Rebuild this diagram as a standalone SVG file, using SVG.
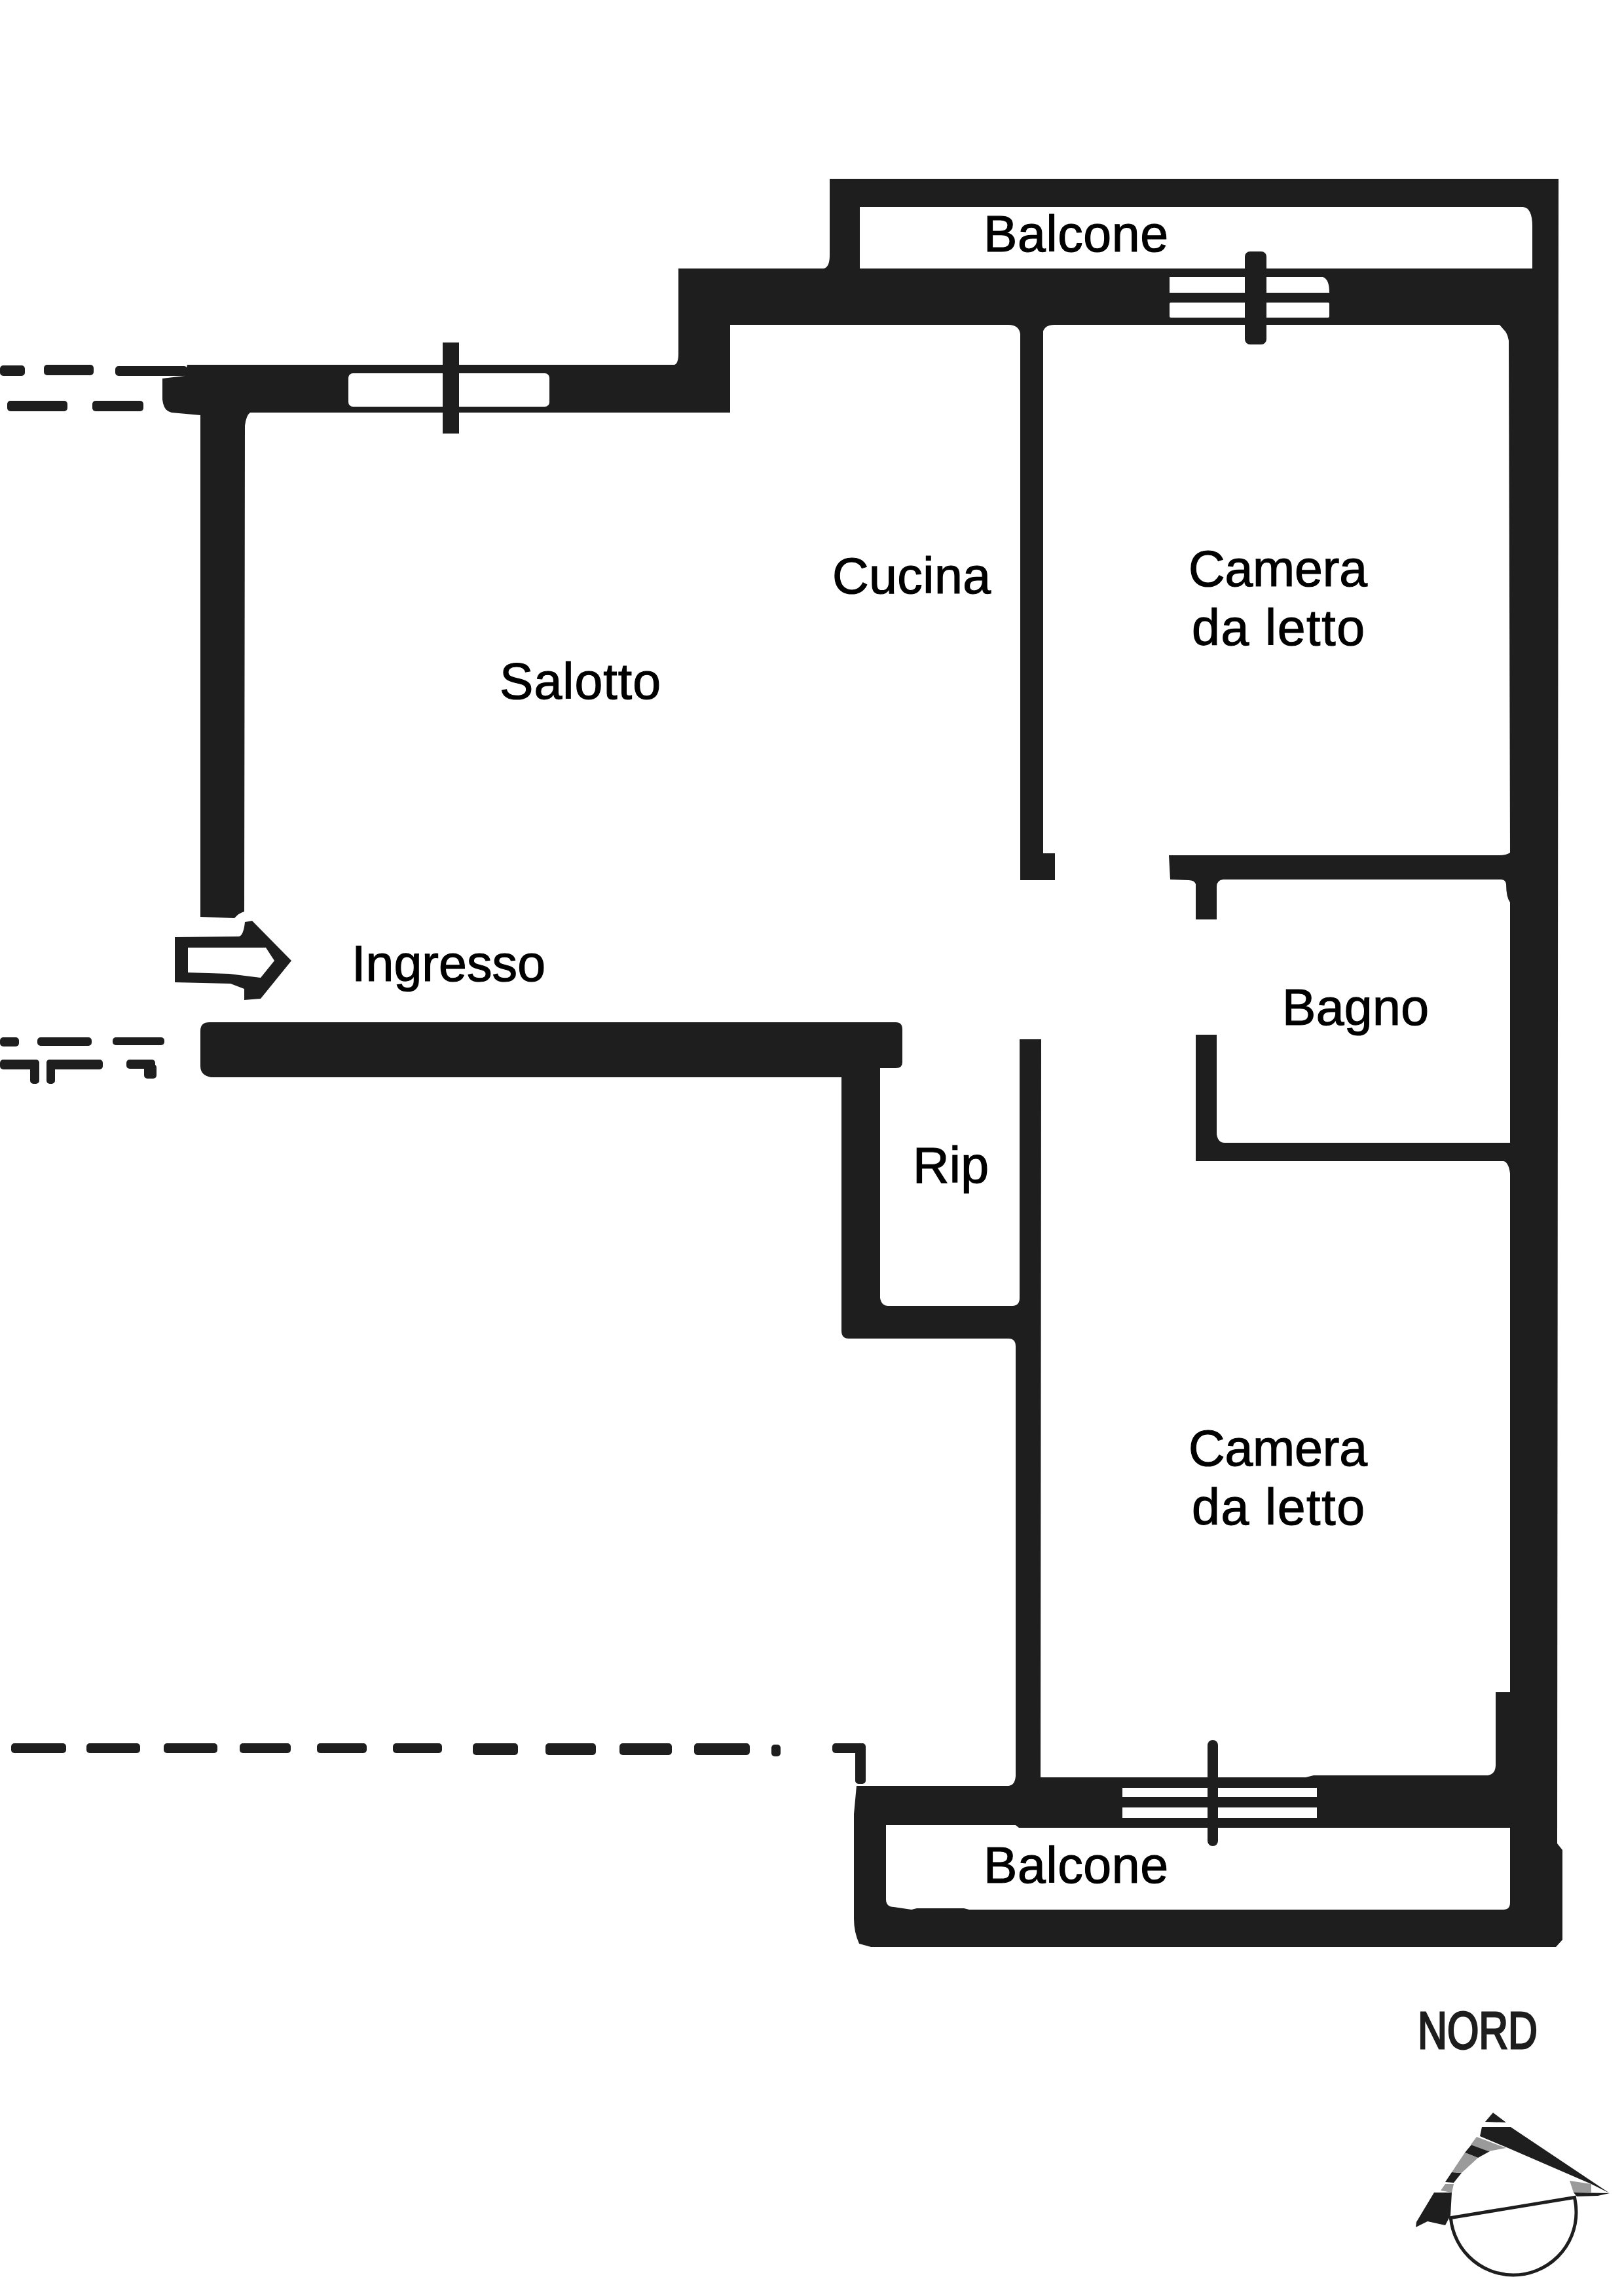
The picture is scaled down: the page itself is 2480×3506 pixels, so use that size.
<svg xmlns="http://www.w3.org/2000/svg" width="2480" height="3506" viewBox="0 0 2480 3506">
<style>
.w{fill:#1e1e1e}
.g{fill:#fff}
.s{fill:#9a9a9a}
.l{font-family:"Liberation Sans",Arial,sans-serif;font-size:77px;fill:#000;stroke:#000;stroke-width:1.2px}
.d rect{fill:#1e1e1e;rx:5px}
</style>
<rect width="2480" height="3506" fill="#fff"/>
<g id="walls">
<path class="w" d="M306 1400 L306 634 L262 630 Q250 628 248 610 L248 578 L282 574 L286 557 L1030 557 Q1036 555 1036 540 L1036 410 L1258 410 Q1267 408 1267 390 L1267 273 L2380 273 L2378 2815 L2386 2825 L2386 2962 L2376 2973 L1330 2973 L1312 2968 Q1304 2950 1304 2930 L1304 2770 L1308 2727 L1540 2727 Q1550 2726 1551 2712 L1551 2056 Q1551 2044 1540 2044 L1296 2044 Q1285 2044 1285 2032 L1285 1645 L322 1645 Q306 1642 306 1628 L306 1574 Q306 1561 320 1561 L1368 1561 Q1378 1561 1378 1572 L1378 1622 Q1378 1631 1368 1631 L1344 1631 L1344 1982 Q1346 1994 1356 1994 L1546 1994 Q1557 1994 1557 1982 L1557 1587 L1590 1587 L1589 2714 L1994 2714 L2006 2711 L2272 2711 Q2284 2709 2284 2695 L2284 2584 L2306 2584 L2306 1792 Q2304 1775 2296 1773 L1826 1773 L1826 1580 L1858 1580 L1858 1732 Q1860 1745 1870 1745 L2306 1745 L2306 1378 Q2300 1370 2300 1350 Q2299 1343 2292 1343 L1868 1343 Q1858 1344 1858 1354 L1858 1404 L1826 1404 L1826 1350 Q1824 1344 1815 1344 L1787 1343 L1785 1306 L2290 1306 Q2300 1306 2306 1302 L2304 520 Q2302 508 2296 503 L2290 496 L1610 496 Q1596 496 1593 506 L1593 1303 L1611 1303 L1611 1344 L1558 1344 L1558 510 Q1556 496 1540 496 L1115 496 L1115 630 L382 630 Q376 634 374 650 L373 1392 Q365 1394 358 1402 Z"/>
<path class="g" d="M1313 316 L2326 316 Q2340 318 2340 345 L2340 410 L1313 410 Z"/>
<path class="g" d="M1353 2787 L1551 2787 L1556 2791 L2306 2791 L2306 2905 Q2306 2916 2296 2916 L1480 2916 L1472 2914 L1400 2914 L1392 2916 L1365 2912 Q1353 2912 1353 2900 Z"/>
</g>
<g id="windows">
<rect class="g" x="532" y="570" width="307" height="51" rx="7"/>
<rect class="w" x="676" y="523" width="25" height="139"/>
<path class="g" d="M1786 423 L2020 423 Q2030 426 2030 447 L1786 447 Z"/>
<rect class="g" x="1786" y="462" width="244" height="23" rx="2"/>
<rect class="w" x="1901" y="384" width="33" height="142" rx="8"/>
<rect class="g" x="1714" y="2730" width="297" height="14"/>
<rect class="g" x="1714" y="2760" width="297" height="16"/>
<rect class="w" x="1844" y="2657" width="16" height="162" rx="8"/>
</g>
<g id="context-lines" class="d">
<rect x="0" y="558" width="38" height="16"/>
<rect x="67" y="557" width="76" height="16"/>
<rect x="176" y="559" width="110" height="15"/>
<rect x="11" y="612" width="92" height="16"/>
<rect x="141" y="612" width="78" height="16"/>
<rect x="0" y="1584" width="29" height="14"/>
<rect x="57" y="1584" width="83" height="13"/>
<rect x="172" y="1584" width="79" height="12"/>
<rect x="0" y="1618" width="58" height="15"/>
<rect x="46" y="1618" width="14" height="37"/>
<rect x="71" y="1618" width="86" height="15"/>
<rect x="71" y="1618" width="13" height="37"/>
<rect x="193" y="1618" width="44" height="14"/>
<rect x="220" y="1625" width="19" height="22"/>
<rect x="17" y="2662" width="84" height="15"/>
<rect x="132" y="2662" width="82" height="15"/>
<rect x="250" y="2662" width="82" height="15"/>
<rect x="366" y="2662" width="78" height="15"/>
<rect x="484" y="2662" width="76" height="15"/>
<rect x="600" y="2662" width="75" height="15"/>
<rect x="722" y="2662" width="69" height="18"/>
<rect x="833" y="2662" width="77" height="18"/>
<rect x="946" y="2662" width="80" height="18"/>
<rect x="1060" y="2662" width="85" height="18"/>
<rect x="1178" y="2664" width="14" height="18"/>
<rect x="1271" y="2662" width="50" height="15"/>
<rect x="1306" y="2662" width="16" height="62"/>
</g>
<g id="entrance-arrow">
<path class="w" fill-rule="evenodd" d="M267 1431 L365 1430 Q372 1428 374 1408 L385 1406 L445 1467 L398 1525 L373 1527 L373 1510 L352 1502 L267 1500 Z M287 1447 L406 1447 L419 1467 L398 1493 L350 1487 L287 1485 Z"/>
</g>
<g id="labels">
<text class="l" x="1502" y="384" textLength="282" lengthAdjust="spacing">Balcone</text>
<text class="l" x="763" y="1067" textLength="246" lengthAdjust="spacing">Salotto</text>
<text class="l" x="537" y="1498" textLength="296" lengthAdjust="spacing">Ingresso</text>
<text class="l" x="1271" y="906" textLength="242" lengthAdjust="spacing">Cucina</text>
<text class="l" x="1815" y="895" textLength="273" lengthAdjust="spacing">Camera</text>
<text class="l" x="1820" y="985" textLength="264" lengthAdjust="spacing">da letto</text>
<text class="l" x="1958" y="1565" textLength="224" lengthAdjust="spacing">Bagno</text>
<text class="l" x="1394" y="1806" textLength="116" lengthAdjust="spacing">Rip</text>
<text class="l" x="1815" y="2238" textLength="273" lengthAdjust="spacing">Camera</text>
<text class="l" x="1820" y="2328" textLength="264" lengthAdjust="spacing">da letto</text>
<text class="l" x="1502" y="2875" textLength="282" lengthAdjust="spacing">Balcone</text>
</g>
<g id="north">
<text x="2165" y="3128" font-family="'Liberation Sans',Arial,sans-serif" font-size="80" fill="#1e1e1e" stroke="#1e1e1e" stroke-width="3" textLength="183" lengthAdjust="spacingAndGlyphs">NORD</text>
<circle cx="2311" cy="3378" r="96" fill="none" stroke="#1e1e1e" stroke-width="5"/>
<path class="g" d="M2205 3320 L2290 3265 L2420 3330 L2412 3356 L2213 3388 Z"/>
<path fill="none" stroke="#1e1e1e" stroke-width="5" d="M2213 3387 L2407 3355"/>
<path class="w" d="M2268 3240 L2280 3226 L2300 3241 Z"/>
<path class="w" d="M2263 3248 L2307 3248 L2458 3349 L2430 3335 L2303 3280 L2260 3262 Z"/>
<path class="w" d="M2237 3287 L2247 3275 L2275 3285 L2257 3295 Z"/>
<path class="w" d="M2207 3332 L2217 3317 L2232 3318 L2220 3333 Z"/>
<path class="w" d="M2163 3393 L2190 3348 L2217 3348 L2215 3383 L2207 3398 L2180 3392 L2162 3401 Z"/>
<path class="s" d="M2255 3263 L2300 3280 L2273 3285 L2246 3275 Z"/>
<path class="s" d="M2237 3287 L2257 3295 L2232 3318 L2217 3317 Z"/>
<path class="s" d="M2200 3345 L2207 3335 L2220 3335 L2217 3348 Z"/>
<path class="s" d="M2397 3330 L2430 3335 L2430 3348 L2403 3348 Z"/>
<path class="w" d="M2403 3348 L2458 3349 L2440 3353 L2408 3354 Z"/>
</g>
</svg>
